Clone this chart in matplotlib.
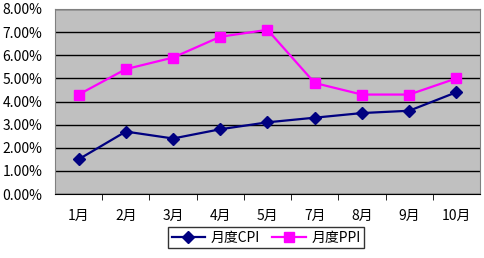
import matplotlib
matplotlib.use("Agg")
import matplotlib.pyplot as plt
from matplotlib.ticker import FuncFormatter, FixedLocator

plt.rcParams['font.family'] = ['Noto Sans CJK SC', 'DejaVu Sans']

months = ['1月', '2月', '3月', '4月', '5月', '7月', '8月', '9月', '10月']
cpi = [1.5, 2.7, 2.4, 2.8, 3.1, 3.3, 3.5, 3.6, 4.4]
ppi = [4.3, 5.4, 5.9, 6.8, 7.1, 4.8, 4.3, 4.3, 5.0]

fig = plt.figure(figsize=(4.85, 2.58), dpi=100)
ax = fig.add_axes([55/485, 1 - 194/258, 425/485, 185/258])
ax.set_facecolor('#C0C0C0')

x = list(range(len(months)))
ax.plot(x, cpi, color='#000080', marker='D', markersize=6, lw=1.6, label='月度CPI')
ax.plot(x, ppi, color='#FF00FF', marker='s', markersize=7, lw=1.6, label='月度PPI')

ax.set_xlim(-0.5, len(months) - 0.5)
ax.set_ylim(0, 8)
ax.set_yticks(range(0, 9))
ax.yaxis.set_major_formatter(FuncFormatter(lambda v, p: f'{v:.2f}%'))
ax.yaxis.grid(True, color='black', lw=1)
ax.set_axisbelow(True)
ax.tick_params(axis='y', length=0, labelsize=10, pad=9)

ax.set_xticks(x)
ax.set_xticklabels(months, fontsize=10)
ax.tick_params(axis='x', length=0, pad=11)
ax.xaxis.set_minor_locator(FixedLocator([i + 0.5 for i in range(len(months) - 1)]))
ax.tick_params(axis='x', which='minor', length=4, direction='out', color='black')

for s in ax.spines.values():
    s.set_color('#808080')
ax.spines['bottom'].set_color('black')

leg = fig.legend(loc='upper center', bbox_to_anchor=(266/485, 1 - 227/258),
                 ncol=2, frameon=True, fancybox=False, edgecolor='black', fontsize=10,
                 handlelength=2.4, columnspacing=0.9, borderpad=0.25, handletextpad=0.4,
                 borderaxespad=0)
leg.get_frame().set_linewidth(1)

fig.savefig('out.png', dpi=100)
